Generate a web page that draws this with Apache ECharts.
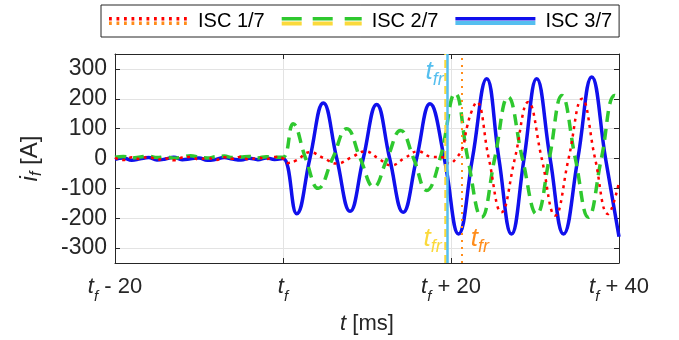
<!DOCTYPE html>
<html>
<head>
<meta charset="utf-8">
<script src="https://cdn.jsdelivr.net/npm/echarts@6/dist/echarts.min.js"></script>
<style>
html, body { margin: 0; padding: 0; background: #fff; }
#chart { width: 679px; height: 340px; }
</style>
</head>
<body>
<div id="chart"></div>
<script>
// time in ms relative to the fault instant t_f, fault current in A
const t17 = [-20, -19, -18, -17, -16, -15, -14, -13, -12, -11, -10, -9, -8, -7, -6, -5, -4, -3, -2, -1,
  0, 0.5, 1.6, 3.2, 4.8, 6.4, 8.1, 9.8, 11.3, 12.9, 14.5, 16.1, 17.6, 19.0, 19.8, 20.6,
  21.4, 21.9, 22.5, 23.05, 24.5, 26.0, 27.6, 29.2, 30.8, 32.4, 34.0, 35.6, 37.15, 38.7, 40];
const i17 = [2, -5, 4, -2, 6, -4, 1, -6, 3, 5, -3, 2, -5, 4, -1, 6, -4, 3, -2, 5,
  0, -15, -6, 21, 2, -17, 3, 24, 1, -23, 2, 24, 6, 4, -17, 0,
  38, 105, 161, 189, 0, -180, 0, 189, 0, -191, 0, 200, 0, -186, -80];

const t27 = [-20, -19, -18, -17, -16, -15, -14, -13, -12, -11, -10, -9, -8, -7, -6, -5, -4, -3, -2, -1,
  0, 1.2, 2.7, 4.2, 5.9, 7.6, 9.2, 10.8, 12.4, 14.0, 15.55, 17.1, 18.7, 20.5,
  22.0, 23.65, 25.2, 26.8, 28.5, 30.2, 31.7, 33.2, 34.8, 36.35, 37.9, 39.5, 40];
const i27 = [4, 7, 2, 5, 8, 3, 6, 1, 5, 9, 4, 2, 6, 8, 3, 5, 7, 2, 6, 4,
  4, 116, 0, -100, 0, 100, 0, -95, 0, 94, 0, -107, 0, 218,
  0, -197, 0, 206, 0, -186, 0, 211, 0, -197, 0, 211, 205];

const t37 = [-20, -19, -18, -17, -16, -15, -14, -13, -12, -11, -10, -9, -8, -7, -6, -5, -4, -3, -2, -1,
  0, 1.63, 3.2, 4.8, 6.4, 7.98, 9.55, 11.15, 12.7, 14.3, 15.9, 17.5, 19.2,
  20.9, 22.55, 24.25, 25.7, 27.2, 28.7, 30.2, 31.8, 33.4, 35.1, 36.75, 38.4, 40];
const i37 = [-3, 2, -6, -1, 3, -5, -2, 4, -4, -1, 2, -6, -3, 3, -2, -5, 1, -4, 2, -3,
  0, -185, 0, 186, 0, -177, 0, 181, 0, -180, 0, 183, 0,
  -253, 0, 267, 0, -253, 0, 267, 0, -253, 0, 273, 0, -262];

// fault recognition instants t_fr per case (ms)
const tfr17 = 21.27;
const tfr27 = 19.37;
const tfr37 = 19.61;

const seriesNames = ['ISC 1/7', 'ISC 2/7', 'ISC 3/7'];
const xTickValues = [-20, 0, 20, 40];
const xTickText = ['- 20', '', '+ 20', '+ 40'];

const FONT = '"Liberation Sans", Arial, sans-serif';
const AX = '#262626';
const RED = '#ff0000', ORANGE = '#ff8c1a';
const GREEN = '#2fc82f', YELLOW = '#fbd93b';
const BLUE = '#1010ec', LBLUE = '#55bfef';

const pairs = (t, v) => t.map((x, k) => [x, v[k]]);

// legend icons: rectangles inside a fixed 85x12 box (corner points keep the box)
function icon(spans, y0, y1) {
  let p = 'path://M0 0L0 0ZM85 12L85 12Z';
  for (const [a, b] of spans) p += `M${a} ${y0}L${b} ${y0}L${b} ${y1}L${a} ${y1}Z`;
  return p;
}
const dots = [];
for (let k = 0; k < 11; k++) dots.push([1 + 7.5 * k, 3.8 + 7.5 * k]);
const dashes = [[0, 20], [31, 51], [63, 80]];
const solid = [[0, 80]];

const legendBase = {
  left: 101, top: 5, itemWidth: 85, itemHeight: 12, itemGap: 17,
  padding: [6, 7], selectedMode: false, symbolKeepAspect: false,
  textStyle: { fontSize: 20, fontFamily: FONT, color: '#000' }
};

const tfrLabel = (color) => ({
  show: true,
  formatter: '{t|t}{s|fr}',
  rich: {
    t: { fontSize: 26, fontStyle: 'italic', fontFamily: FONT, color },
    s: { fontSize: 18, fontStyle: 'italic', fontFamily: FONT, color, padding: [16, 0, 0, 0] }
  }
});

function tfrSeries(name, t, color, type, width, labelY, pos, dist) {
  return {
    name, type: 'line', data: [], z: 6,
    markLine: {
      symbol: 'none', silent: true, animation: false,
      label: { show: false },
      lineStyle: { color, width, type },
      emphasis: { disabled: true },
      data: [{ xAxis: t }]
    },
    markPoint: {
      symbol: 'circle', symbolSize: 0, silent: true, animation: false,
      data: [{ coord: [t, labelY] }],
      label: Object.assign(tfrLabel(color), { position: pos, distance: dist })
    }
  };
}

const chart = echarts.init(document.getElementById('chart'), null, { renderer: 'canvas' });

const axisLineStyle = { show: true, onZero: false, lineStyle: { color: AX, width: 1 } };
const tickStyle = { inside: true, length: 5, lineStyle: { color: AX } };

chart.setOption({
  animation: false,
  grid: { left: 115, right: 60, top: 54, bottom: 77, containLabel: false, outerBoundsMode: 'none' },
  legend: [
    Object.assign({}, legendBase, {
      borderColor: AX, borderWidth: 1, backgroundColor: '#fff', z: 4,
      data: [
        { name: 'ISC 1/7', icon: icon(dots, 2, 5.5), itemStyle: { color: RED, borderWidth: 0 } },
        { name: 'ISC 2/7', icon: icon(dashes, 2, 5.5), itemStyle: { color: GREEN, borderWidth: 0 } },
        { name: 'ISC 3/7', icon: icon(solid, 2, 5.5), itemStyle: { color: BLUE, borderWidth: 0 } }
      ]
    }),
    Object.assign({}, legendBase, {
      z: 5,
      formatter: (n) => n.replace(' tfr', ''),
      textStyle: { fontSize: 20, fontFamily: FONT, color: 'rgba(0,0,0,0)' },
      data: [
        { name: 'ISC 1/7 tfr', icon: icon(dots, 6.5, 10), itemStyle: { color: ORANGE, borderWidth: 0 } },
        { name: 'ISC 2/7 tfr', icon: icon(dashes, 6.5, 10.5), itemStyle: { color: YELLOW, borderWidth: 0 } },
        { name: 'ISC 3/7 tfr', icon: icon(solid, 6, 10), itemStyle: { color: LBLUE, borderWidth: 0 } }
      ]
    })
  ],
  xAxis: [
    {
      type: 'value', min: -20, max: 40, interval: 20, position: 'bottom',
      axisLine: axisLineStyle, axisTick: tickStyle,
      splitLine: { show: true, lineStyle: { color: '#e3e3e3', width: 1 } },
      axisLabel: {
        margin: 7, color: AX, fontFamily: FONT, fontSize: 22,
        formatter: (v) => {
          const k = xTickValues.indexOf(v);
          return '{t|t}{f|f}' + (xTickText[k] ? '{n| ' + xTickText[k] + '}' : '');
        },
        rich: {
          t: { fontSize: 22, fontStyle: 'italic', fontFamily: FONT, color: AX },
          f: { fontSize: 15, fontStyle: 'italic', fontFamily: FONT, color: AX, padding: [19, 0, 0, 0] },
          n: { fontSize: 22, fontFamily: FONT, color: AX }
        }
      },
      name: '{t|t} [ms]', nameLocation: 'middle', nameGap: 50,
      nameTextStyle: {
        fontSize: 22, fontFamily: FONT, color: AX,
        rich: { t: { fontSize: 22, fontStyle: 'italic', fontFamily: FONT, color: AX } }
      }
    },
    {
      type: 'value', min: -20, max: 40, interval: 20, position: 'top',
      axisLine: axisLineStyle, axisTick: tickStyle,
      axisLabel: { show: false }, splitLine: { show: false }
    }
  ],
  yAxis: [
    {
      type: 'value', min: -350, max: 350, splitNumber: 7, position: 'left',
      axisLine: axisLineStyle, axisTick: tickStyle,
      splitLine: { show: true, lineStyle: { color: '#e3e3e3', width: 1 } },
      axisLabel: { margin: 8, color: AX, fontFamily: FONT, fontSize: 23, showMinLabel: false, showMaxLabel: false },
      name: '{i|i}{f|f} [A]', nameLocation: 'middle', nameGap: 70, nameRotate: 90,
      nameTextStyle: {
        fontSize: 24, fontFamily: FONT, color: AX,
        rich: {
          i: { fontSize: 24, fontStyle: 'italic', fontFamily: FONT, color: AX },
          f: { fontSize: 16, fontStyle: 'italic', fontFamily: FONT, color: AX, padding: [14, 0, 0, 0] }
        }
      }
    },
    {
      type: 'value', min: -350, max: 350, splitNumber: 7, position: 'right',
      axisLine: axisLineStyle, axisTick: tickStyle,
      axisLabel: { show: false }, splitLine: { show: false }
    }
  ],
  series: [
    {
      name: seriesNames[2], type: 'line', data: pairs(t37, i37), z: 2,
      symbol: 'none', smooth: 0.45,
      lineStyle: { color: BLUE, width: 3.5 }, itemStyle: { color: BLUE }
    },
    {
      name: seriesNames[1], type: 'line', data: pairs(t27, i27), z: 3,
      symbol: 'none', smooth: 0.45,
      lineStyle: { color: GREEN, width: 3.5, type: [11, 7] }, itemStyle: { color: GREEN }
    },
    {
      name: seriesNames[0], type: 'line', data: pairs(t17, i17), z: 4,
      symbol: 'none', smooth: 0.45,
      lineStyle: { color: RED, width: 2.5, type: [3, 4.5] }, itemStyle: { color: RED }
    },
    tfrSeries('ISC 1/7 tfr', tfr17, ORANGE, [2, 5], 2, -268, 'right', 9),
    tfrSeries('ISC 2/7 tfr', tfr27, YELLOW, [8, 5], 2.5, -268, 'left', 4),
    tfrSeries('ISC 3/7 tfr', tfr37, LBLUE, 'solid', 2.5, 290, 'left', 4)
  ]
});
</script>
</body>
</html>
